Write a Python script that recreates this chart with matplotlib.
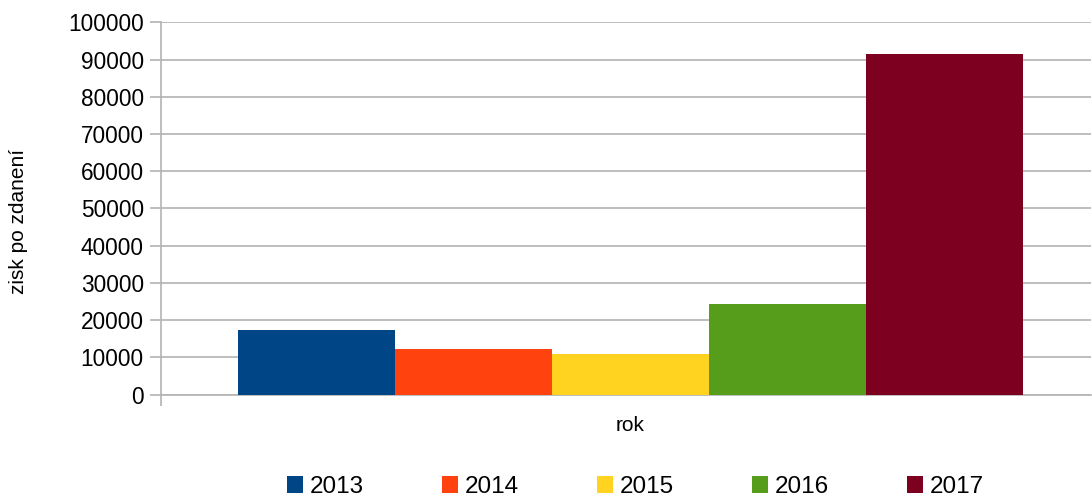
import numpy as np
from matplotlib import pyplot as plt
from matplotlib.patches import Patch

plt.rcParams["font.family"] = ["Liberation Sans", "DejaVu Sans"]

# data
years = ["2013", "2014", "2015", "2016", "2017"]
profit = [17270, 12180, 10840, 24230, 91430]
colors = ["#004586", "#ff420e", "#ffd320", "#579d1c", "#7e0021"]
yticks = np.arange(0, 100001, 10000)

fig = plt.figure(figsize=(10.92, 4.97), dpi=100)
ax = fig.add_axes([0.147, 0.206, 0.852, 0.749])

x = np.arange(len(years))
ax.bar(x, profit, width=1.0, color=colors, zorder=3)

xlim = (-0.5 - 0.493, 4.5 + 0.43)
ax.set_xlim(*xlim)
ax.set_ylim(0, 100000)
ax.set_yticks(yticks)
ax.set_yticklabels([str(v) for v in yticks], fontsize=16.3)
ax.set_xticks([xlim[0]])
ax.set_xticklabels([""])
ax.grid(axis="y", color="#b3b3b3", linewidth=1.2, zorder=0)

for s in ["top", "right"]:
    ax.spines[s].set_visible(False)
for s in ["left", "bottom"]:
    ax.spines[s].set_color("#b3b3b3")
    ax.spines[s].set_linewidth(1.2)
ax.tick_params(axis="y", color="#b3b3b3", length=8, width=1.2, pad=4)
ax.tick_params(axis="x", color="#b3b3b3", length=8, width=1.2)

ax.set_ylabel("zisk po zdanení", fontsize=15, va="center")
ax.yaxis.set_label_coords(-0.153, 0.464)
ax.set_xlabel("rok", fontsize=15, va="center")
ax.xaxis.set_label_coords(0.505, -0.082)

handles = [Patch(facecolor=c, label=y) for c, y in zip(colors, years)]
fig.legend(handles=handles, loc="center", bbox_to_anchor=(0.582, 0.02),
           ncol=5, frameon=False, fontsize=17.5, handlelength=0.65,
           handleheight=0.65, handletextpad=0.3, columnspacing=3.2)

plt.savefig("out.png")
